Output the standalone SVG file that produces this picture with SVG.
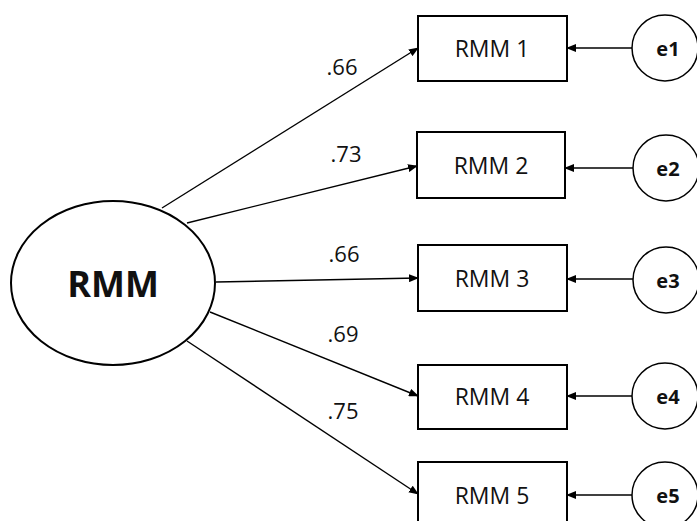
<svg xmlns="http://www.w3.org/2000/svg" width="697" height="521" viewBox="0 0 697 521">
<style>
.box{fill:#fff;stroke:#000;stroke-width:2}
.err{fill:#fff;stroke:#000;stroke-width:1.5}
.lat{fill:#fff;stroke:#000;stroke-width:2}
.t{font-family:"Open Sans","Liberation Sans",sans-serif;font-size:23px;fill:#111;text-anchor:middle;dominant-baseline:central}
.e{font-family:"Open Sans","Liberation Sans",sans-serif;font-size:20px;font-weight:bold;fill:#111;text-anchor:middle;dominant-baseline:central}
.big{font-family:"Open Sans","Liberation Sans",sans-serif;font-size:36px;font-weight:bold;fill:#111;text-anchor:middle;dominant-baseline:central}
.lb{font-family:"Open Sans","Liberation Sans",sans-serif;font-size:22px;fill:#111;text-anchor:middle;dominant-baseline:central}
.c{stroke:#000;stroke-width:1.4;fill:none;marker-end:url(#ah)}
</style>
<defs>
<marker id="ah" markerWidth="10" markerHeight="8" refX="9" refY="4" orient="auto" markerUnits="userSpaceOnUse">
<path d="M0,0 L10,4 L0,8 z" fill="#000"/>
</marker>
</defs>
<rect width="697" height="521" fill="#fff"/>
<g id="connectors">
<line class="c" x1="162" y1="208" x2="418" y2="48"/>
<line class="c" x1="187" y1="223" x2="417" y2="166"/>
<line class="c" x1="216" y1="282" x2="418" y2="278"/>
<line class="c" x1="210" y1="312" x2="418" y2="396"/>
<line class="c" x1="187" y1="341" x2="418" y2="494"/>
<line class="c" x1="632" y1="48" x2="567" y2="48"/>
<line class="c" x1="633" y1="168" x2="565" y2="168"/>
<line class="c" x1="633" y1="279" x2="567" y2="279"/>
<line class="c" x1="632" y1="396" x2="567" y2="396"/>
<line class="c" x1="632" y1="495" x2="567" y2="495"/>
<text class="lb" x="342" y="66">.66</text>
<text class="lb" x="346" y="153">.73</text>
<text class="lb" x="344" y="253">.66</text>
<text class="lb" x="343" y="333">.69</text>
<text class="lb" x="343" y="410">.75</text>
</g>
<g id="RMM">
<ellipse class="lat" cx="113" cy="283" rx="102" ry="82"/>
<text class="big" x="113" y="283">RMM</text>
</g>
<g id="RMM1"><rect class="box" x="418" y="16" width="149" height="65"/><text class="t" x="492" y="48">RMM 1</text></g>
<g id="RMM2"><rect class="box" x="417" y="132" width="148" height="66"/><text class="t" x="491" y="165">RMM 2</text></g>
<g id="RMM3"><rect class="box" x="418" y="245" width="149" height="66"/><text class="t" x="492" y="278">RMM 3</text></g>
<g id="RMM4"><rect class="box" x="418" y="365" width="149" height="64"/><text class="t" x="492" y="396">RMM 4</text></g>
<g id="RMM5"><rect class="box" x="418" y="462" width="149" height="70"/><text class="t" x="492" y="495">RMM 5</text></g>
<g id="e1"><circle class="err" cx="665" cy="48" r="33"/><text class="e" x="668" y="48">e1</text></g>
<g id="e2"><circle class="err" cx="666" cy="168" r="33"/><text class="e" x="668" y="168">e2</text></g>
<g id="e3"><circle class="err" cx="666" cy="280" r="33"/><text class="e" x="668" y="280">e3</text></g>
<g id="e4"><circle class="err" cx="665" cy="396" r="33"/><text class="e" x="668" y="396">e4</text></g>
<g id="e5"><circle class="err" cx="665" cy="495" r="33"/><text class="e" x="668" y="495">e5</text></g>
</svg>
